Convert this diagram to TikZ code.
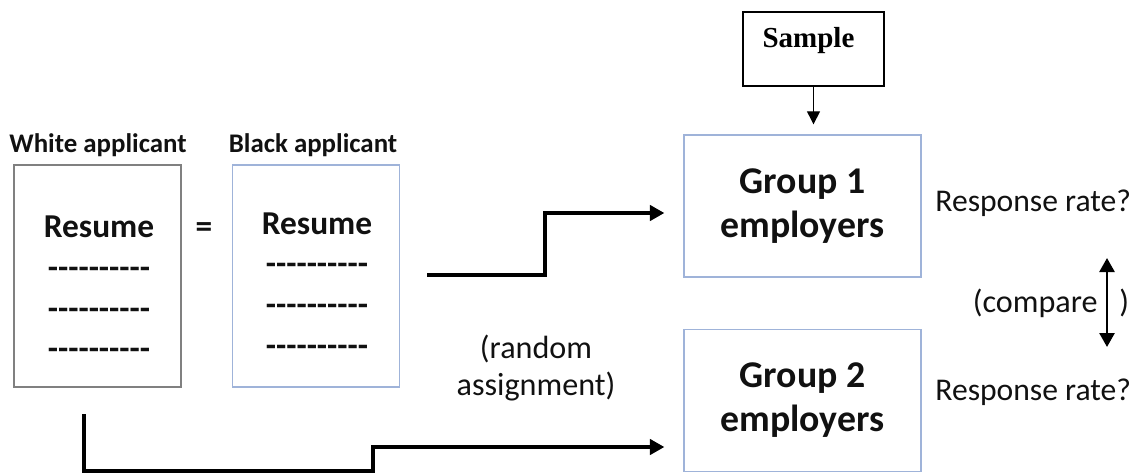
\documentclass[tikz,border=0pt]{standalone}
\usepackage{fontspec}
\setmainfont{Carlito}
\newfontfamily\samplefont{Liberation Serif}
\usetikzlibrary{arrows.meta, positioning}
\definecolor{FrameBlue}{HTML}{9FB3D9}
\definecolor{FrameGray}{HTML}{808080}
\definecolor{TextDark}{HTML}{111111}
\newcommand{\dashline}{\mbox{-}\mbox{-}\mbox{-}\mbox{-}\mbox{-}\mbox{-}\mbox{-}\mbox{-}\mbox{-}\mbox{-}}

\begin{document}
\begin{tikzpicture}[
        x=0.02cm, y=-0.02cm,
        doc/.style={rectangle, draw=FrameGray, line width=0.8pt, minimum width=3.34cm, minimum height=4.44cm},
        docb/.style={doc, draw=FrameBlue},
        grp/.style={rectangle, draw=FrameBlue, line width=0.8pt, minimum width=4.74cm, minimum height=2.84cm, align=center, font=\fontsize{21.5}{25}\selectfont\bfseries, text=TextDark},
        smp/.style={rectangle, draw=black, line width=1pt, minimum width=2.82cm, minimum height=1.48cm},
        hdr/.style={inner sep=0pt, font=\fontsize{15.3}{18}\selectfont\bfseries, text=TextDark},
        restxt/.style={inner sep=0pt, align=center, font=\fontsize{19}{23.2}\selectfont\bfseries, text=TextDark},
        txt/.style={inner sep=0pt, font=\fontsize{18.3}{20.5}\selectfont, text=TextDark},
        rtxt/.style={txt, font=\fontsize{18}{21}\selectfont},
        steparr/.style={-{Triangle[length=0.29cm, width=0.31cm]}, line width=1.8pt, shorten >=0.38cm},
        thinarr/.style={-{Triangle[length=0.26cm, width=0.26cm]}, line width=0.7pt, shorten >=0.2cm},
        cmparr/.style={{Triangle[length=0.28cm, width=0.3cm]}-{Triangle[length=0.28cm, width=0.3cm]}, line width=1.5pt}
      ]
        \useasboundingbox (0,0) rectangle (1145,474);

        % the two resumes
        \node[doc] (wres) at (97.5,276) {};
        \node[docb] (bres) at (316,276) {};
        \node[hdr] (wlbl) at (98,145) {White applicant};
        \node[hdr] (blbl) at (313,145) {Black applicant};
        \node[restxt] (wtxt) at (99,288) {Resume\\\dashline\\\dashline\\\dashline};
        \node[restxt] (btxt) at (317,284.5) {Resume\\\dashline\\\dashline\\\dashline};
        \node[restxt] (eq) at (204,230) {=};

        % employer groups
        \node[smp, label={[anchor=north, inner sep=0pt, yshift=-0.32cm, xshift=-0.1cm, font=\samplefont\fontsize{16.5}{18}\selectfont\bfseries]north:Sample}] (smp) at (813.5,49) {};
        \node[grp] (g1) at (802.5,206) {Group 1\\employers};
        \node[grp] (g2) at (802.5,400.5) {Group 2\\employers};
        \node[rtxt, anchor=west] (rr1) at (935,203) {Response rate?};
        \node[rtxt, anchor=west] (rr2) at (935,392) {Response rate?};
        \node[txt, anchor=east] (cmp) at (1098,303) {(compare};
        \node[txt, anchor=west] (cmpend) at (1119,303) {)};
        \node[txt, align=center] (rnd) at (536,368) {(random\\assignment)};

        \coordinate (s1) at (427,275);
        \coordinate (k1) at (545,213);
        \coordinate (s2) at (84,414);
        \coordinate (k2) at (373,447);
        \coordinate (ca) at (1107,258);
        \coordinate (cb) at (1107,347);

        \draw[steparr] (s1) -| (k1) -- (k1 -| g1.west);
        \draw[steparr] (s2) -- ++(0,57) -| (k2) -- (k2 -| g2.west);
        \draw[thinarr] (smp.south) -- (smp.south |- g1.north);
        \draw[cmparr] (ca) -- (cb);
      \end{tikzpicture}
\end{document}
